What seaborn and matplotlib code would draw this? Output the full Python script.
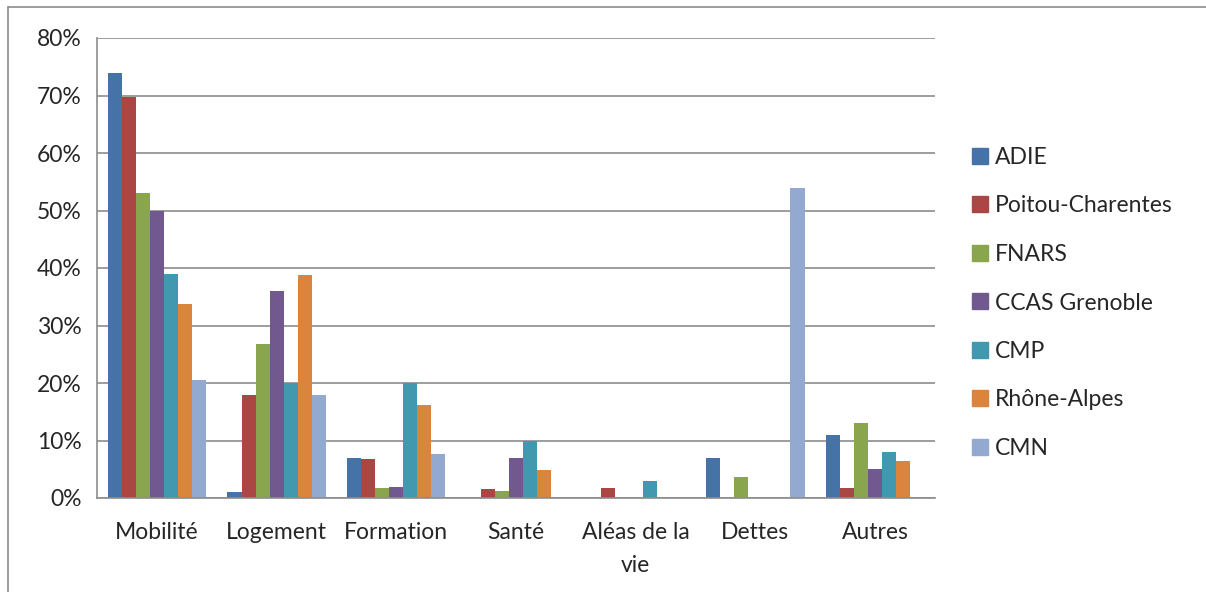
import numpy as np
import pandas as pd
import seaborn as sns
import matplotlib.pyplot as plt
from matplotlib.lines import Line2D
from matplotlib.ticker import FuncFormatter, FixedLocator

# Chart data (percent)
categories = ["Mobilité", "Logement", "Formation", "Santé", "Aléas de la\nvie", "Dettes", "Autres"]
series = ["ADIE", "Poitou-Charentes", "FNARS", "CCAS Grenoble", "CMP", "Rhône-Alpes", "CMN"]
adie = [74.0, 1.0, 7.0, 0.0, 0.0, 7.0, 11.0]
poitou = [69.7, 18.0, 6.7, 1.6, 1.8, 0.0, 1.8]
fnars = [53.0, 26.7, 1.8, 1.3, 0.0, 3.7, 13.0]
ccas = [50.0, 36.0, 2.0, 7.0, 0.0, 0.0, 5.0]
cmp_ = [39.0, 20.0, 20.0, 10.0, 3.0, 0.0, 8.0]
rhone = [33.8, 38.7, 16.2, 4.8, 0.0, 0.0, 6.4]
cmn = [20.5, 18.0, 7.7, 0.0, 0.0, 54.0, 0.0]
colors = ["#4572A7", "#AA4643", "#89A54E", "#71588F", "#4198AF", "#DB843D", "#93A9CF"]

values = [adie, poitou, fnars, ccas, cmp_, rhone, cmn]
rows = []
for name, vals in zip(series, values):
    for cat, v in zip(categories, vals):
        rows.append({"cat": cat, "serie": name, "val": v})
df = pd.DataFrame(rows)

sns.set_style("white")
plt.rcParams["font.family"] = ["Lato", "DejaVu Sans"]

fig = plt.figure(figsize=(12.06, 5.92), dpi=100)
ax = fig.add_axes([97 / 1206, 1 - 498 / 592, (935 - 97) / 1206, (498 - 38) / 592])

sns.barplot(data=df, x="cat", y="val", hue="serie", order=categories, hue_order=series,
            palette=colors, width=0.82, gap=0, dodge=True, ax=ax, legend=False,
            saturation=1, linewidth=0)

ax.set_ylim(0, 80)
ax.set_xlim(-0.5, 6.5)
ax.set_yticks(np.arange(0, 81, 10))
ax.yaxis.set_major_formatter(FuncFormatter(lambda v, p: f"{int(v)}%"))
ax.grid(axis="y", color="#8c8c8c", linewidth=1.2)
ax.set_axisbelow(True)
ax.set_xlabel("")
ax.set_ylabel("")

for s in ["top", "right"]:
    ax.spines[s].set_visible(False)
for s in ["left", "bottom"]:
    ax.spines[s].set_color("#8c8c8c")
    ax.spines[s].set_linewidth(1.2)

ax.tick_params(axis="y", labelsize=16.5, length=8, width=1.2, color="#8c8c8c", pad=3, direction="out")
ax.tick_params(axis="x", which="major", labelsize=16.5, length=0, pad=17)
for t in ax.get_xticklabels():
    t.set_linespacing(1.75)
ax.xaxis.set_minor_locator(FixedLocator(np.arange(-0.5, 7, 1)))
ax.tick_params(axis="x", which="minor", length=8, color="#8c8c8c", width=1.2)

handles = [Line2D([0], [0], marker="s", linestyle="", color=c, markersize=11) for c in colors]
fig.legend(handles, series, loc="center left", bbox_to_anchor=(946 / 1206, 1 - 303 / 592),
           frameon=False, fontsize=16.5, labelspacing=1.2, handletextpad=0.05,
           handlelength=1.2)

# outer chart border
fig.add_artist(Line2D([8 / 1206, 8 / 1206], [0, 1 - 7 / 592], transform=fig.transFigure,
                      color="#8c8c8c", linewidth=1.2))
fig.add_artist(Line2D([8 / 1206, 1], [1 - 7 / 592, 1 - 7 / 592], transform=fig.transFigure,
                      color="#8c8c8c", linewidth=1.2))

fig.savefig("out.png", dpi=100)
